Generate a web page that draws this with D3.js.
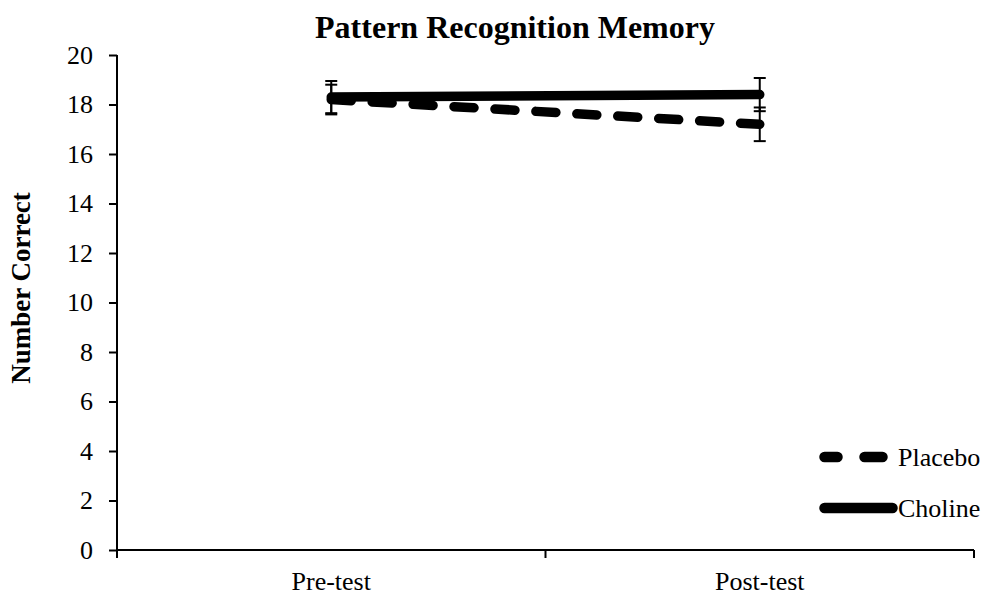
<!DOCTYPE html>
<html>
<head>
<meta charset="utf-8">
<script src="https://cdn.jsdelivr.net/npm/d3@7"></script>
<style>
  html, body { margin: 0; padding: 0; background: #fff; }
  svg { display: block; }
  svg text { font-family: "Liberation Serif", "Times New Roman", serif; fill: #000; }
</style>
</head>
<body>
<svg id="chart" width="988" height="596"></svg>
<script>
// Test sessions along the x axis
const sessions = ["Pre-test", "Post-test"];
// Group names, in legend order
const groups = ["Placebo", "Choline"];
// Mean number correct per session
const placeboMeans = [18.2, 17.2];
const cholineMeans = [18.3, 18.4];
// Error bar half-widths per session
const placeboErr = [0.6, 0.68];
const cholineErr = [0.65, 0.67];
// Y axis tick values
const yTicks = [0, 2, 4, 6, 8, 10, 12, 14, 16, 18, 20];

const svg = d3.select("#chart");
const plot = { left: 117, right: 974, top: 55, bottom: 550 };
const fontSize = 26;

const x = d3.scaleBand().domain(sessions).range([plot.left, plot.right]);
const y = d3.scaleLinear().domain([0, 20]).range([plot.bottom, plot.top]);
const cx = s => x(s) + x.bandwidth() / 2;

const series = [
  { name: groups[0], means: placeboMeans, errs: placeboErr, dash: "20,21", legendDash: "13,27,18,27" },
  { name: groups[1], means: cholineMeans, errs: cholineErr, dash: null, legendDash: null }
];

// Y axis
const yAxis = svg.append("g")
  .attr("transform", `translate(${plot.left},0)`)
  .call(d3.axisLeft(y).tickValues(yTicks).tickSize(8).tickPadding(16).tickFormat(d3.format("d")));
yAxis.attr("font-family", null).attr("font-size", null);
yAxis.select(".domain").attr("stroke", "#000").attr("stroke-width", 2).attr("d", `M0,${plot.top}V${plot.bottom}`);
yAxis.selectAll(".tick line").attr("stroke", "#000").attr("stroke-width", 2);
yAxis.selectAll(".tick text").attr("font-size", fontSize);

// X axis: ticks mark the boundaries between sessions
const xAxisG = svg.append("g").attr("transform", `translate(0,${plot.bottom})`);
xAxisG.append("line")
  .attr("x1", plot.left).attr("x2", plot.right)
  .attr("stroke", "#000").attr("stroke-width", 2);
const bounds = sessions.map(s => x(s)).concat([x(sessions[sessions.length - 1]) + x.bandwidth()]);
xAxisG.selectAll("line.bound").data(bounds).enter().append("line")
  .attr("class", "bound")
  .attr("x1", d => d).attr("x2", d => d)
  .attr("y1", 0).attr("y2", 8)
  .attr("stroke", "#000").attr("stroke-width", 2);
xAxisG.selectAll("text").data(sessions).enter().append("text")
  .attr("x", d => cx(d)).attr("y", 40)
  .attr("text-anchor", "middle").attr("font-size", fontSize)
  .text(d => d);

// Error bars
const capW = 6;
series.forEach(s => {
  const g = svg.append("g");
  sessions.forEach((sess, i) => {
    const px = cx(sess);
    const hi = y(s.means[i] + s.errs[i]);
    const lo = y(s.means[i] - s.errs[i]);
    g.append("line").attr("x1", px).attr("x2", px).attr("y1", hi).attr("y2", lo)
      .attr("stroke", "#000").attr("stroke-width", 2);
    [hi, lo].forEach(v => g.append("line")
      .attr("x1", px - capW).attr("x2", px + capW).attr("y1", v).attr("y2", v)
      .attr("stroke", "#000").attr("stroke-width", 2));
  });
});

// Lines
const line = d3.line().x((d, i) => cx(sessions[i])).y(d => y(d));
series.forEach(s => {
  svg.append("path")
    .datum(s.means)
    .attr("d", line)
    .attr("fill", "none")
    .attr("stroke", "#000")
    .attr("stroke-width", 9.5)
    .attr("stroke-linecap", "round")
    .attr("stroke-dasharray", s.dash);
});

// Title
svg.append("text")
  .attr("x", 515).attr("y", 38)
  .attr("text-anchor", "middle")
  .attr("font-size", 32).attr("font-weight", "bold")
  .text("Pattern Recognition Memory");

// Y axis title
svg.append("text")
  .attr("transform", "translate(30,288) rotate(-90)")
  .attr("text-anchor", "middle")
  .attr("font-size", 27).attr("font-weight", "bold")
  .text("Number Correct");

// Legend
const legendRows = [457, 508];
series.forEach((s, i) => {
  const ly = legendRows[i];
  svg.append("line")
    .attr("x1", 824.5).attr("x2", s.dash ? 882.5 : 892.5)
    .attr("y1", ly).attr("y2", ly)
    .attr("stroke", "#000").attr("stroke-width", 10.5)
    .attr("stroke-linecap", "round")
    .attr("stroke-dasharray", s.legendDash);
  svg.append("text")
    .attr("x", 898).attr("y", ly + 9)
    .attr("font-size", fontSize)
    .text(s.name);
});
</script>
</body>
</html>
